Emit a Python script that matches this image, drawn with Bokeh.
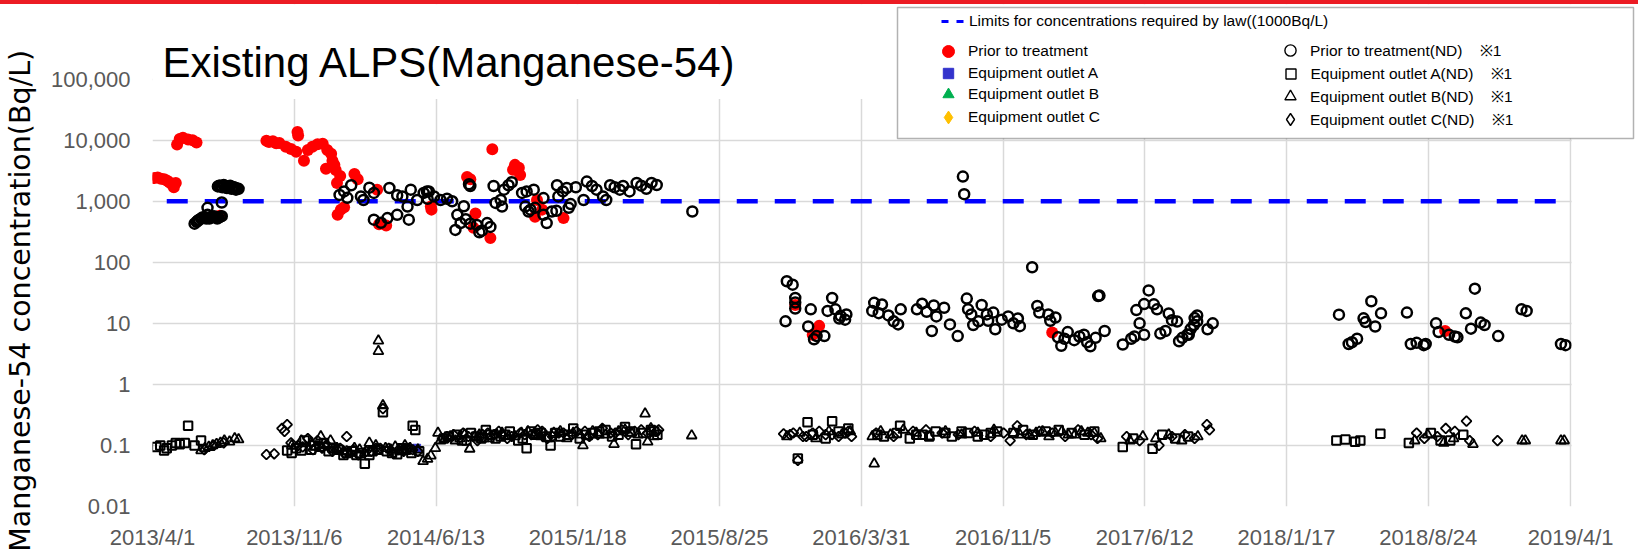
import numpy as np
import pandas as pd
from bokeh.plotting import figure
from bokeh.layouts import column
from bokeh.models import (FixedTicker, BoxAnnotation, Label, Legend, LegendItem, Range1d, Div)
from bokeh.embed import file_html
from bokeh.resources import INLINE

# ---------------- data (days counted from 2013/4/1) ----------------
START = pd.Timestamp("2013-04-01")

x_tick_labels = ["2013/4/1", "2013/11/6", "2014/6/13", "2015/1/18", "2015/8/25", "2016/3/31",
                 "2016/11/5", "2017/6/12", "2018/1/17", "2018/8/24", "2019/4/1"]
y_ticks = [0.01, 0.1, 1, 10, 100, 1000, 10000, 100000]
y_tick_labels = ["0.01", "0.1", "1", "10", "100", "1,000", "10,000", "100,000"]

limit_days = [22, 2191]
limit_vals = [1000, 1000]

# Prior to treatment (detected)
prior_days = ([3, 8, 13, 18, 22, 26, 30, 33, 36] + [38, 42, 47, 55, 62, 68] + [99, 104]
              + [176, 180, 186, 191, 196, 206, 214, 222, 224, 225, 234]
              + [240, 247, 255, 263, 270, 276, 278, 281, 268, 283, 285, 290]
              + [312, 317, 291, 286, 296] + [347, 350, 361, 430, 431]
              + [486, 491, 499, 496, 522, 525] + [557, 560, 566, 568, 591, 594, 602, 635]
              + [993, 1020, 1025, 1030, 1390, 1997])
prior_vals = ([2400, 2450, 2350, 2300, 2200, 2050, 1900, 1700, 2000] + [8500, 10500, 11000, 10300, 10000, 9200] + [560, 580]
              + [9800, 9400, 9600, 8900, 9000, 7800, 7200, 6500, 13700, 12000, 4600]
              + [6900, 7800, 8600, 8800, 6900, 6000, 4600, 3950, 3400, 3250, 2000, 2600]
              + [2800, 2300, 730, 600, 800] + [1550, 420, 400, 820, 730]
              + [2500, 2300, 630, 370, 250, 7100] + [3300, 3950, 3550, 2700, 560, 1050, 730, 530]
              + [20, 6.5, 7.0, 9.1, 7.1, 7.5])

# Prior to treatment (ND)
prior_nd_days = ([65, 70, 75, 80, 85, 88, 92, 97, 102, 107, 85, 107]
                 + [68, 72, 77, 83, 90, 95, 100, 105]
                 + [103, 106, 110, 113, 117, 120, 124, 128, 131]
                 + [101, 104, 108, 111, 115, 118, 122, 126, 129, 133]
                 + [289, 296, 301, 307, 322, 326, 335, 342] + [342, 353, 363, 378, 396]
                 + [366, 378, 386, 394, 399, 409, 419, 425, 427] + [424, 435, 445, 455, 463, 481]
                 + [471, 476, 468, 484, 491] + [489, 491, 501, 505, 509, 517, 522]
                 + [527, 530, 538, 540, 543, 550, 555] + [571, 578, 589, 576, 581, 584, 591]
                 + [604, 604, 609, 617, 624, 643, 646]
                 + [625, 627, 634, 640, 654, 666, 671, 679, 686, 696, 701, 707, 714, 722, 727, 737, 748, 755, 763, 771, 779]
                 + [834, 1252, 1254]
                 + [980, 989, 993, 993, 993, 978, 1017, 1013, 1022, 1026, 1038, 1050, 1043, 1055, 1063, 1072, 1070, 1061]
                 + [1115, 1127, 1112, 1122, 1137, 1145, 1152, 1156]
                 + [1181, 1189, 1196, 1207, 1204, 1211, 1223, 1232, 1244]
                 + [1258, 1260, 1265, 1281, 1276, 1268, 1289, 1291, 1299, 1302, 1312, 1322, 1330, 1337, 1340]
                 + [1359, 1367, 1370, 1384, 1395, 1387]
                 + [1399, 1404, 1414, 1424, 1439, 1449, 1457, 1471, 1444, 1409, 1432, 1461, 1463]
                 + [1499, 1512, 1517, 1532, 1525, 1520, 1532, 1539, 1547, 1552, 1557, 1565, 1570, 1575, 1583, 1586, 1591, 1601, 1609, 1614]
                 + [1599, 1604, 1610, 1614, 1630, 1638]
                 + [1833, 1848, 1853, 1861, 1871, 1874, 1883, 1889, 1898, 1938, 1944, 1953, 1964, 1967]
                 + [1983, 1987, 2003, 2012, 2016, 2029, 2037, 2043, 2052, 2058, 2079, 2115, 2123, 2176, 2183])
prior_nd_vals = ([430, 480, 520, 550, 600, 520, 560, 550, 540, 570, 780, 955]
                 + [460, 500, 540, 520, 540, 570, 520, 560]
                 + [1800, 1750, 1850, 1700, 1750, 1800, 1700, 1650, 1600]
                 + [1750, 1800, 1700, 1800, 1650, 1750, 1600, 1700, 1550, 1600]
                 + [1270, 1450, 1140, 1830, 1200, 1050, 1670, 1370] + [500, 445, 530, 600, 500]
                 + [1650, 1250, 1200, 820, 1550, 1050, 1370, 1100, 1450] + [1450, 1200, 1050, 1100, 1000, 830]
                 + [600, 440, 340, 510, 430] + [1900, 1780, 410, 310, 330, 440, 380]
                 + [1780, 940, 1050, 820, 1550, 1830, 2050] + [1370, 1450, 1550, 820, 680, 730, 780]
                 + [1130, 600, 440, 680, 700, 780, 900]
                 + [1830, 1200, 1450, 1650, 1700, 1050, 2100, 1780, 1550, 1200, 1050, 1830, 1700, 1550, 1780, 1450, 2000, 1800, 1600, 2000, 1850]
                 + [680, 2540, 1310]
                 + [49, 43, 26, 22, 17.5, 10.8, 17, 8.9, 5.5, 6.2, 6.2, 26, 16, 17, 13.3, 14, 11.5, 12]
                 + [21.7, 20.4, 16, 14.7, 13.5, 10.8, 9.6, 17]
                 + [17, 21, 15.5, 19.6, 7.5, 13, 18, 9.6, 6.2]
                 + [25.5, 17, 14, 20, 10.8, 9.4, 14, 11, 15, 8.0, 11.5, 13, 10, 12, 9]
                 + [83, 19.3, 15, 14, 12.5, 11]
                 + [5.9, 4.3, 7.2, 5.3, 6.5, 4.2, 5.8, 7.5, 4.9, 5.6, 6.1, 28, 28.5]
                 + [4.5, 5.6, 6.1, 6.5, 10, 16.5, 20.7, 34.7, 20.5, 17, 6.8, 7.5, 14.5, 11.3, 10.7, 5.1, 5.8, 6.5, 9.4, 13.5]
                 + [6.6, 8.1, 12.2, 10.8, 8.0, 10]
                 + [13.9, 4.6, 4.9, 5.6, 12.1, 10.5, 23, 8.9, 14.6, 15, 4.6, 4.8, 4.4, 4.6]
                 + [10, 7.2, 6.5, 6.1, 5.9, 14.6, 8.2, 37, 10.3, 9.4, 6.2, 17, 16, 4.6, 4.4])

# Equipment outlets (detected)
a_days, a_vals = [408], [0.09]
b_days, b_vals = [], []
c_days, c_vals = [], []

# Equipment outlet A (ND)
a_nd_days = ([6, 12, 18, 22, 30, 36, 42, 50, 55, 65, 75]
             + [208, 230, 235, 250, 265, 280, 300, 315, 328, 340, 356, 370, 385, 400, 402, 406, 412]
             + [215, 222, 245, 258, 272, 288, 295, 308, 322, 335, 348, 362, 378, 392]
             + [450, 470, 485, 500, 515, 530, 545, 565, 578, 585, 600, 615, 630, 650, 670, 690, 710, 730, 747, 770, 780]
             + [458, 478, 492, 508, 522, 538, 552, 572, 592, 608, 622, 642, 660, 680, 700, 720, 738, 758, 775]
             + [997, 1012, 1020, 1040, 1050, 1060, 1075]
             + [1120, 1155, 1170, 1190, 1210, 1235, 1260, 1285, 1305]
             + [1130, 1150, 1180, 1200, 1225, 1250, 1275, 1295]
             + [1330, 1345, 1360, 1380, 1400, 1420, 1440, 1455]
             + [1499, 1515, 1545, 1560, 1580, 1600]
             + [1829, 1843, 1858, 1866, 1897]
             + [1941, 1975, 1990, 2005, 2025])
a_nd_vals = ([0.094, 0.1, 0.083, 0.09, 0.1, 0.11, 0.105, 0.11, 0.21, 0.1, 0.12]
             + [0.083, 0.083, 0.12, 0.1, 0.11, 0.09, 0.075, 0.07, 0.05, 0.08, 0.35, 0.075, 0.09, 0.075, 0.21, 0.18, 0.08]
             + [0.075, 0.09, 0.085, 0.095, 0.08, 0.085, 0.07, 0.08, 0.075, 0.07, 0.085, 0.08, 0.072, 0.085]
             + [0.13, 0.15, 0.12, 0.14, 0.18, 0.13, 0.15, 0.12, 0.09, 0.17, 0.16, 0.1, 0.14, 0.19, 0.15, 0.17, 0.14, 0.2, 0.105, 0.18, 0.15]
             + [0.14, 0.12, 0.16, 0.13, 0.15, 0.14, 0.17, 0.13, 0.15, 0.14, 0.16, 0.15, 0.13, 0.16, 0.18, 0.15, 0.17, 0.16, 0.17]
             + [0.061, 0.24, 0.15, 0.13, 0.25, 0.17, 0.19]
             + [0.15, 0.21, 0.13, 0.15, 0.17, 0.14, 0.16, 0.15, 0.17]
             + [0.14, 0.16, 0.15, 0.14, 0.16, 0.17, 0.14, 0.16]
             + [0.16, 0.18, 0.15, 0.17, 0.18, 0.16, 0.15, 0.17]
             + [0.094, 0.13, 0.088, 0.15, 0.13, 0.14]
             + [0.12, 0.125, 0.115, 0.12, 0.155]
             + [0.11, 0.16, 0.12, 0.12, 0.15])

# Equipment outlet B (ND)
b_nd_days = ([75, 81, 87, 93, 99, 105, 111, 119, 127, 133]
             + [245, 260, 275, 285, 295, 305, 320, 335, 345, 349, 349, 356, 360, 375, 390, 418, 425, 430, 437, 441]
             + [215, 230, 252, 268, 282, 300, 312, 328, 368, 382, 398, 410]
             + [445, 460, 475, 490, 505, 520, 540, 560, 580, 600, 620, 640, 660, 665, 680, 700, 713, 730, 750, 761, 765, 770, 775]
             + [452, 468, 482, 498, 512, 532, 550, 570, 590, 610, 630, 650, 672, 690, 720, 740]
             + [833]
             + [980, 1000, 1025, 1045, 1065, 1078]
             + [1115, 1112, 1125, 1140, 1160, 1180, 1200, 1225, 1250, 1275, 1300]
             + [1340, 1365, 1385, 1405, 1425, 1445, 1465]
             + [1330, 1355, 1375, 1395, 1415, 1435, 1455]
             + [1510, 1530, 1550, 1570, 1590, 1615]
             + [1950, 1970, 1995, 2010, 2040]
             + [2116, 2121, 2176, 2181])
b_nd_vals = ([0.083, 0.09, 0.094, 0.1, 0.105, 0.11, 0.12, 0.115, 0.13, 0.125]
             + [0.11, 0.14, 0.12, 0.09, 0.08, 0.075, 0.085, 0.11, 0.1, 5.2, 3.5, 0.45, 0.09, 0.095, 0.1, 0.055, 0.06, 0.068, 0.09, 0.16]
             + [0.1, 0.12, 0.095, 0.1, 0.085, 0.08, 0.09, 0.075, 0.085, 0.08, 0.09, 0.085]
             + [0.12, 0.14, 0.13, 0.088, 0.15, 0.13, 0.16, 0.14, 0.17, 0.14, 0.16, 0.13, 0.15, 0.1, 0.17, 0.15, 0.105, 0.18, 0.15, 0.33, 0.115, 0.19, 0.14]
             + [0.13, 0.12, 0.15, 0.14, 0.13, 0.15, 0.14, 0.16, 0.15, 0.13, 0.17, 0.16, 0.14, 0.15, 0.17, 0.16]
             + [0.145]
             + [0.14, 0.16, 0.13, 0.17, 0.15, 0.17]
             + [0.05, 0.14, 0.17, 0.15, 0.18, 0.16, 0.14, 0.17, 0.15, 0.16, 0.18]
             + [0.15, 0.16, 0.14, 0.17, 0.15, 0.16, 0.13]
             + [0.16, 0.15, 0.17, 0.16, 0.15, 0.17, 0.16]
             + [0.12, 0.14, 0.13, 0.15, 0.12, 0.14]
             + [0.12, 0.15, 0.11, 0.13, 0.105]
             + [0.12, 0.12, 0.12, 0.12])

# Equipment outlet C (ND)
c_nd_days = ([80, 95, 110]
             + [176, 188, 200, 204, 208, 225, 240, 255, 270, 290, 300, 310, 330, 345, 356, 365, 380, 395, 410]
             + [214, 232, 248, 262, 278, 296, 318, 338, 352, 372, 388, 402]
             + [455, 480, 510, 535, 555, 575, 595, 610, 635, 655, 675, 695, 715, 735, 755, 778]
             + [448, 465, 488, 502, 518, 528, 548, 568, 585, 602, 618, 628, 648, 668, 688, 708, 725, 745, 765, 782]
             + [975, 990, 997, 1010, 1030, 1050, 1070, 1080]
             + [985, 1005, 1020, 1040, 1060, 1075]
             + [1118, 1145, 1175, 1195, 1220, 1245, 1270, 1295, 1315]
             + [1325, 1336, 1350, 1370, 1390, 1410, 1430, 1450, 1460]
             + [1505, 1525, 1555, 1575, 1595, 1610, 1629, 1633]
             + [1953, 1965, 1985, 1998, 2012, 2030, 2035, 2078])
c_nd_vals = ([0.085, 0.1, 0.11]
             + [0.071, 0.073, 0.19, 0.17, 0.22, 0.1, 0.13, 0.12, 0.1, 0.09, 0.14, 0.085, 0.08, 0.09, 0.4, 0.09, 0.085, 0.09, 0.08]
             + [0.11, 0.095, 0.085, 0.09, 0.08, 0.075, 0.07, 0.08, 0.09, 0.075, 0.08, 0.085]
             + [0.14, 0.16, 0.15, 0.17, 0.14, 0.15, 0.18, 0.13, 0.16, 0.17, 0.14, 0.19, 0.16, 0.15, 0.18, 0.17]
             + [0.13, 0.15, 0.14, 0.12, 0.16, 0.15, 0.13, 0.16, 0.15, 0.17, 0.14, 0.16, 0.15, 0.17, 0.15, 0.16, 0.18, 0.17, 0.16, 0.18]
             + [0.155, 0.16, 0.057, 0.14, 0.17, 0.15, 0.16, 0.14]
             + [0.15, 0.14, 0.16, 0.15, 0.14, 0.17]
             + [0.16, 0.14, 0.17, 0.18, 0.16, 0.15, 0.17, 0.14, 0.16]
             + [0.12, 0.21, 0.15, 0.17, 0.16, 0.14, 0.18, 0.15, 0.13]
             + [0.14, 0.12, 0.1, 0.14, 0.15, 0.13, 0.22, 0.18]
             + [0.16, 0.13, 0.14, 0.19, 0.17, 0.25, 0.12, 0.12])

title_text = "Existing ALPS(Manganese-54)"
y_label = "Manganese-54 concentration(Bq/L)"
legend_limit = "Limits for concentrations required by law((1000Bq/L)"
legend_left = ["Prior to treatment", "Equipment outlet A", "Equipment outlet B", "Equipment outlet C"]
SP = "\u00a0\u00a0\u00a0 "
legend_right = ["Prior to treatment(ND)" + SP + "\u203b1", "Equipment outlet A(ND)" + SP + "\u203b1",
                "Equipment outlet B(ND)" + SP + "\u203b1", "Equipment outlet C(ND)" + SP + "\u203b1"]

# ---------------- layout constants (page pixels) ----------------
W, STRIP = 1638, 4
H = 552 - STRIP
FRAME_L = 148          # page x of 2013/4/1
X_END_PX = 1570        # page x of 2019/4/1
Y_BOT_PX = 508 - STRIP  # canvas y of 0.01
Y_TOP_TICK_PX = 79 - STRIP  # canvas y of 100,000


def to_dt(days):
    return START + pd.to_timedelta(np.asarray(days, dtype=float), unit="D")


tick_dt = pd.to_datetime(x_tick_labels, format="%Y/%m/%d")
tick_ms = [int(t.value // 10**6) for t in tick_dt]

span_ms = tick_ms[-1] - tick_ms[0]
x_end = tick_ms[0] + span_ms * (W - FRAME_L) / (X_END_PX - FRAME_L)
decade_px = (Y_BOT_PX - Y_TOP_TICK_PX) / 7.0
y_top = 10 ** (-2 + Y_BOT_PX / decade_px)

p = figure(width=W, height=H, x_axis_type="datetime", y_axis_type="log",
           x_range=Range1d(tick_ms[0], x_end), y_range=Range1d(0.01, y_top),
           output_backend="svg", toolbar_location=None,
           min_border_left=FRAME_L, min_border_right=0, min_border_top=0,
           min_border_bottom=H - Y_BOT_PX, margin=0)
p.outline_line_color = None
p.background_fill_color = "white"
p.border_fill_color = "white"

xt = FixedTicker(ticks=tick_ms)
yt = FixedTicker(ticks=y_ticks)
p.xaxis.ticker = xt
p.yaxis.ticker = yt
p.xgrid.ticker = xt
p.ygrid.ticker = yt
p.xaxis.major_label_overrides = {ms: lab for ms, lab in zip(tick_ms, x_tick_labels)}
p.yaxis.major_label_overrides = {t: lab for t, lab in zip(y_ticks, y_tick_labels)}

for ax in (p.xaxis[0], p.yaxis[0]):
    ax.major_label_text_font = "Liberation Sans"
    ax.major_label_text_font_size = "22px"
    ax.major_label_text_color = "#595959"
    ax.major_tick_line_color = None
    ax.minor_tick_line_color = None
    ax.major_tick_out = 0
    ax.major_tick_in = 0
    ax.minor_tick_out = 0
    ax.axis_line_color = None
p.yaxis.major_label_standoff = 22
p.xaxis.major_label_standoff = 18
# trailing no-break spaces move the visible label down to the centre of the data area
p.yaxis.axis_label = y_label + "\u00a0" * 10
p.yaxis.axis_label_text_font = "DejaVu Sans"
p.yaxis.axis_label_text_font_size = "28.5px"
p.yaxis.axis_label_text_font_style = "normal"
p.yaxis.axis_label_text_color = "black"
p.yaxis.axis_label_standoff = 11

for g in (p.xgrid[0], p.ygrid[0]):
    g.grid_line_color = "#d9d9d9"
    g.grid_line_width = 1.5

# ---------------- series ----------------
p.line(to_dt(limit_days), limit_vals, line_color="#0000ff", line_width=4.5, line_dash="21 17")
p.scatter(to_dt(prior_days), prior_vals, marker="circle", size=12, fill_color="#ff0000", line_color=None)
p.scatter(to_dt(a_days), a_vals, marker="square", size=8, fill_color="#3333cc", line_color="#3333cc")
p.scatter(to_dt(b_days), b_vals, marker="triangle", size=9, fill_color="#00b050", line_color="#00b050")
p.scatter(to_dt(c_days), c_vals, marker="diamond", size=11, fill_color="#ffc000", line_color="#ffc000")
p.scatter(to_dt(prior_nd_days), prior_nd_vals, marker="circle", size=10, fill_color=None,
          line_color="black", line_width=2.5)
p.scatter(to_dt(a_nd_days), a_nd_vals, marker="square", size=8.5, fill_color=None,
          line_color="black", line_width=2)
p.scatter(to_dt(b_nd_days), b_nd_vals, marker="triangle", size=10, fill_color=None,
          line_color="black", line_width=1.8)
p.scatter(to_dt(c_nd_days), c_nd_vals, marker="square", angle=np.pi / 4, size=7, fill_color=None,
          line_color="black", line_width=1.8)

# legend keys: renderers holding a single missing value (nothing is drawn in the plot)
NA_X = [np.nan]
NA_Y = [np.nan]
lg_limit = p.line(NA_X * 2, NA_Y * 2, line_color="#0000ff", line_width=3, line_dash="7 8")
lg_left = [
    p.scatter(NA_X, NA_Y, marker="circle", fill_color="#ff0000", line_color="#ff0000"),
    p.scatter(NA_X, NA_Y, marker="square", fill_color="#3333cc", line_color="#3333cc"),
    p.scatter(NA_X, NA_Y, marker="triangle", fill_color="#00b050", line_color="#00b050"),
    p.scatter(NA_X, NA_Y, marker="diamond", fill_color="#ffc000", line_color="#ffc000"),
]
lg_right = [
    p.scatter(NA_X, NA_Y, marker="circle", fill_color=None, line_color="black", line_width=1.4),
    p.scatter(NA_X, NA_Y, marker="square", fill_color=None, line_color="black", line_width=1.4),
    p.scatter(NA_X, NA_Y, marker="triangle", fill_color=None, line_color="black", line_width=1.4),
    p.scatter(NA_X, NA_Y, marker="diamond", fill_color=None, line_color="black", line_width=1.4),
]

# ---------------- annotations ----------------
# white covers: above the data area and right of the last date
p.add_layout(BoxAnnotation(bottom=47200, fill_color="white", fill_alpha=1, line_color=None))
p.add_layout(BoxAnnotation(left=tick_ms[-1] + 1.5 * 86400000, fill_color="white", fill_alpha=1, line_color=None))
# legend frame
p.add_layout(BoxAnnotation(left=897, right=1633, top=7 - STRIP, bottom=138 - STRIP,
                           left_units="canvas", right_units="canvas", top_units="canvas", bottom_units="canvas",
                           fill_color="white", fill_alpha=1, line_color="black", line_width=1.5))
p.add_layout(Label(x=162, y=62 - STRIP, x_units="canvas", y_units="canvas", text=title_text,
                   text_font="Liberation Sans", text_font_size="42px", text_color="black",
                   text_baseline="middle", text_align="left"))


def add_key(label, renderer, cx, cy, gw, gh, text_x):
    """One legend entry: glyph centred at (cx, cy) page pixels, label starting at text_x."""
    lg = Legend(items=[LegendItem(label=label, renderers=[renderer])],
                location=(cx - gw / 2 - FRAME_L, 508 - (cy + gh / 2)),
                orientation="vertical", border_line_color=None, background_fill_alpha=0,
                padding=0, margin=0, spacing=0,
                glyph_width=gw, glyph_height=gh, label_height=gh,
                label_standoff=int(round(text_x - cx - gw / 2)), label_text_font="Liberation Sans",
                label_text_font_size="15.5px", label_text_color="black")
    p.add_layout(lg, "center")


add_key(legend_limit, lg_limit, 948.5, 23, 23, 20, 965)
left_rows = [53, 75, 96, 119]
left_glyph = [30, 26, 28, 32]
for t, r, cy, g in zip(legend_left, lg_left, left_rows, left_glyph):
    add_key(t, r, 944, cy, g, g, 964)
right_rows = [52, 75, 98, 121]
right_glyph = [28, 25, 28, 30]
for t, r, cy, g in zip(legend_right, lg_right, right_rows, right_glyph):
    add_key(t, r, 1286, cy, g, g, 1306)

strip = Div(text="", width=W, height=STRIP, margin=0,
            styles={"background-color": "#ec1c24", "padding": "0px", "margin": "0px"})
page = column(strip, p, spacing=0, margin=0)

open("out.html", "w").write(file_html(page, INLINE))
